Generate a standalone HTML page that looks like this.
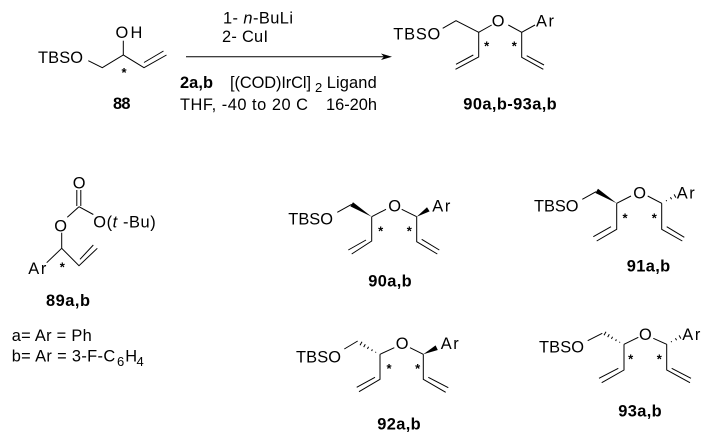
<!DOCTYPE html>
<html>
<head>
<meta charset="utf-8">
<style>
html,body{margin:0;padding:0;background:#fff;}
svg{display:block;}
text{font-family:"Liberation Sans",Arial,sans-serif;font-size:16.4px;fill:#000;}
.b{font-weight:bold;}
.s{font-size:13px;font-weight:bold;text-anchor:middle;}
.u{font-size:13px;}
line,polyline{stroke:#000;stroke-width:1;fill:none;}
</style>
</head>
<body>
<svg width="715" height="438" viewBox="0 0 715 438" xmlns="http://www.w3.org/2000/svg">
<rect width="715" height="438" fill="#fff"/>

<!-- 88 -->
<text x="38" y="63" textLength="45">TBSO</text>
<text x="115.5" y="38">O</text><text x="130.5" y="38">H</text>
<polyline points="88.3,60.7 102.3,67.7 123.3,55 144,67.7 166.5,55"/>
<line x1="144" y1="62.5" x2="163.5" y2="51"/>
<line x1="123.3" y1="55" x2="123.3" y2="40.7"/>
<text class="s" x="124" y="77">*</text>
<text class="b" x="113" y="109" textLength="17.5">88</text>

<!-- reaction arrow -->
<line x1="186" y1="56.7" x2="385" y2="56.7"/>
<path d="M392,56.7 L381,53.5 L384,56.7 L381,60 Z" fill="#000"/>
<text x="223" y="23.5" textLength="70">1- <tspan font-style="italic">n</tspan>-BuLi</text>
<text x="222" y="42" textLength="46">2- CuI</text>
<text class="b" x="180" y="88" textLength="33">2a,b</text>
<text x="230" y="88" textLength="81">[(COD)IrCl]</text>
<text class="u" x="315" y="92">2</text>
<text x="326.7" y="88" textLength="50">Ligand</text>
<text x="180" y="110" textLength="128">THF, -40 to 20 C</text>
<text x="326" y="110" textLength="51">16-20h</text>

<!-- top product -->
<text x="393.3" y="39.3" textLength="47">TBSO</text>
<text x="491.7" y="26.7">O</text>
<text x="536" y="26.7" textLength="18">Ar</text>
<polyline points="442.7,28.3 456,20.7 478.7,32.3 491.7,25"/>
<polyline points="508.3,25 521.7,32.3 535,25"/>
<polyline points="478.7,32.3 478.7,57 455.5,69.3"/>
<line x1="473.3" y1="55" x2="456" y2="64.3"/>
<polyline points="521.7,32.3 521.7,57.3 543.3,69.3"/>
<line x1="526.7" y1="55.7" x2="544" y2="65"/>
<text class="s" x="486.7" y="50.5">*</text>
<text class="s" x="514.3" y="50.5">*</text>
<text class="b" x="463.3" y="109.3" textLength="93.4">90a,b-93a,b</text>

<!-- 89 -->
<text x="72.7" y="188.3">O</text>
<line x1="76.8" y1="190" x2="76.8" y2="206"/>
<line x1="80.8" y1="190" x2="80.8" y2="206"/>
<line x1="79" y1="206.7" x2="67.3" y2="217.3"/>
<line x1="79" y1="206.7" x2="93.3" y2="214.5"/>
<text x="93.3" y="227.3" textLength="62.4">O(<tspan font-style="italic">t</tspan> -Bu)</text>
<text x="54.3" y="231.7">O</text>
<line x1="61.7" y1="232.7" x2="61.7" y2="248.3"/>
<line x1="61.7" y1="248.3" x2="46.7" y2="262.7"/>
<polyline points="61.7,248.3 79,265.7 97.3,248.3"/>
<line x1="80" y1="259.3" x2="93.3" y2="245"/>
<text x="28.3" y="274" textLength="18">Ar</text>
<text class="s" x="62.3" y="271.5">*</text>
<text class="b" x="46" y="306" textLength="44">89a,b</text>
<text x="11.7" y="341" textLength="80">a= Ar = Ph</text>
<text x="11.7" y="361.7" textLength="103.5">b= Ar = 3-F-C</text>
<text class="u" x="117" y="366">6</text>
<text x="125.3" y="361.7">H</text>
<text class="u" x="136.5" y="366">4</text>

<!-- 90 -->
<text x="288.3" y="224.3" textLength="44.7">TBSO</text>
<text x="388.3" y="211.7">O</text>
<text x="432.3" y="211.7" textLength="18">Ar</text>
<polyline points="337.3,212.3 351.7,204.3"/>
<path d="M371.7,216.7 L353,202.2 L350.4,206.4 Z" fill="#000"/>
<line x1="371.7" y1="216.7" x2="386" y2="209.3"/>
<polyline points="401.7,209.3 416.7,216.7"/>
<path d="M416.7,216.7 L429.6,211.4 L427,207.2 Z" fill="#000"/>
<polyline points="371.7,216.7 371.7,241 351.7,254"/>
<line x1="348.3" y1="250" x2="366" y2="240"/>
<polyline points="416.7,216.7 416.7,241.7 437.3,254"/>
<line x1="421.7" y1="239.3" x2="439.3" y2="250"/>
<text class="s" x="380.7" y="235.5">*</text>
<text class="s" x="409.3" y="235.5">*</text>
<text class="b" x="368.3" y="286.7" textLength="43.4">90a,b</text>

<!-- 91 -->
<text x="534" y="211.7" textLength="44.5">TBSO</text>
<text x="633.3" y="198.3">O</text>
<text x="676.7" y="198.3" textLength="18">Ar</text>
<line x1="582.3" y1="199.3" x2="596" y2="191.7"/>
<path d="M616.7,203.3 L598,188.8 L595.4,193 Z" fill="#000"/>
<line x1="616.7" y1="203.3" x2="631" y2="196"/>
<line x1="647.7" y1="196" x2="661.7" y2="203.3"/>
<line x1="666.2" y1="200.2" x2="666.6" y2="201.2"/>
<line x1="670.4" y1="197.2" x2="671.6" y2="199.2"/>
<line x1="674.1" y1="194.4" x2="675.9" y2="197.6"/>
<polyline points="616.7,203.3 616.7,229.3 596.7,241"/>
<line x1="593.3" y1="236.7" x2="611" y2="226.7"/>
<polyline points="661.7,203.3 661.7,229.3 682.3,241"/>
<line x1="666.7" y1="226.7" x2="684.3" y2="237.3"/>
<text class="s" x="625" y="222.5">*</text>
<text class="s" x="654.3" y="222.5">*</text>
<text class="b" x="626.7" y="271.7" textLength="43.5">91a,b</text>

<!-- 92 -->
<text x="296" y="362.3" textLength="45">TBSO</text>
<text x="395.7" y="349">O</text>
<text x="440.7" y="349" textLength="18">Ar</text>
<line x1="344.3" y1="349" x2="357.7" y2="341"/>
<line x1="362" y1="341.8" x2="360" y2="345.2"/>
<line x1="365.3" y1="344.3" x2="363.7" y2="347.1"/>
<line x1="368.6" y1="346.7" x2="367.4" y2="348.9"/>
<line x1="372.4" y1="349.4" x2="371.6" y2="351"/>
<line x1="375.9" y1="351.8" x2="375.5" y2="352.6"/>
<line x1="380" y1="354.3" x2="394.3" y2="347.7"/>
<line x1="410" y1="347.7" x2="423.3" y2="354.3"/>
<path d="M423.3,354.3 L437.8,350 L435.6,345.4 Z" fill="#000"/>
<polyline points="380,354.3 380,379.3 359,391.7"/>
<line x1="356.7" y1="387.3" x2="375" y2="377.3"/>
<polyline points="423.3,354.3 423.3,379.3 445.7,392.3"/>
<line x1="428.3" y1="377.3" x2="448.3" y2="387.7"/>
<text class="s" x="389" y="373">*</text>
<text class="s" x="417.7" y="373">*</text>
<text class="b" x="377.3" y="429.3" textLength="43.4">92a,b</text>

<!-- 93 -->
<text x="539" y="352.7" textLength="45">TBSO</text>
<text x="639" y="340">O</text>
<text x="682.3" y="340" textLength="18">Ar</text>
<line x1="587.7" y1="340.7" x2="602.3" y2="333.3"/>
<g transform="translate(244,-10)">
<line x1="362" y1="341.8" x2="360" y2="345.2"/>
<line x1="365.3" y1="344.3" x2="363.7" y2="347.1"/>
<line x1="368.6" y1="346.7" x2="367.4" y2="348.9"/>
<line x1="372.4" y1="349.4" x2="371.6" y2="351"/>
<line x1="375.9" y1="351.8" x2="375.5" y2="352.6"/>
</g>
<line x1="624" y1="344.3" x2="638.3" y2="337.3"/>
<line x1="653.3" y1="338.3" x2="666.7" y2="344.3"/>
<g transform="translate(5,141)">
<line x1="666.2" y1="200.2" x2="666.6" y2="201.2"/>
<line x1="670.4" y1="197.2" x2="671.6" y2="199.2"/>
<line x1="674.1" y1="194.4" x2="675.9" y2="197.6"/>
</g>
<polyline points="624,344.3 624,370 601.7,382.7"/>
<line x1="599" y1="378.3" x2="618.3" y2="368.3"/>
<polyline points="666.7,344.3 666.7,370 690,382.7"/>
<line x1="671.7" y1="368.3" x2="691" y2="378.3"/>
<text class="s" x="630.7" y="363.7">*</text>
<text class="s" x="659.3" y="363.7">*</text>
<text class="b" x="618.3" y="416.7" textLength="43.4">93a,b</text>
</svg>
</body>
</html>
